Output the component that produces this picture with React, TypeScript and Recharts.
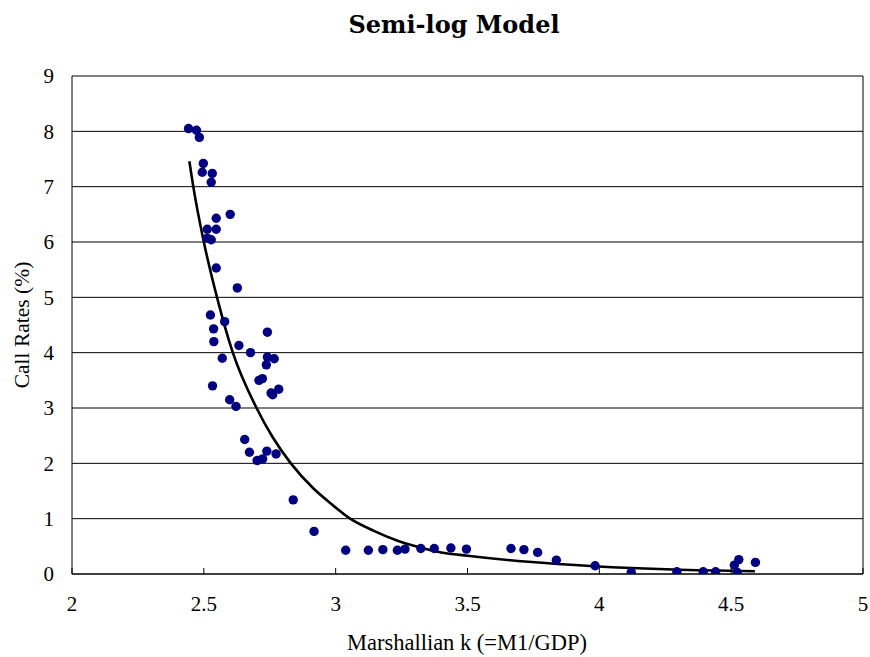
import { ComposedChart, Scatter, Line, XAxis, YAxis, CartesianGrid, ReferenceLine } from 'recharts';

// observed points: Marshallian k vs call rate (%)
const kValues = [
  2.442, 2.472, 2.483, 2.498, 2.494, 2.532, 2.528, 2.6, 2.547, 2.547, 2.513, 2.513, 2.528, 2.547, 2.627,
  2.525, 2.579, 2.537, 2.741, 2.538, 2.633, 2.677, 2.57, 2.741, 2.767, 2.737, 2.533, 2.709, 2.722, 2.755,
  2.784, 2.761, 2.598, 2.622, 2.655, 2.673, 2.739, 2.774, 2.702, 2.723, 2.839, 2.918, 3.038, 3.124, 3.179,
  3.234, 3.263, 3.323, 3.374, 3.437, 3.496, 3.665, 3.714, 3.766, 3.837, 3.984, 4.121, 4.294, 4.394, 4.441,
  4.512, 4.529, 4.523, 4.592,
];
const callRates = [
  8.05, 8.02, 7.89, 7.42, 7.26, 7.24, 7.08, 6.5, 6.43, 6.23, 6.23, 6.07, 6.04, 5.53, 5.17,
  4.68, 4.56, 4.43, 4.37, 4.2, 4.13, 4.0, 3.9, 3.92, 3.89, 3.78, 3.4, 3.5, 3.53, 3.27,
  3.34, 3.24, 3.15, 3.03, 2.43, 2.2, 2.22, 2.17, 2.05, 2.08, 1.34, 0.77, 0.43, 0.43, 0.44,
  0.43, 0.45, 0.46, 0.46, 0.47, 0.45, 0.46, 0.44, 0.39, 0.25, 0.15, 0.03, 0.04, 0.04, 0.04,
  0.16, 0.26, 0.03, 0.21,
];

// fitted curve
const fitK = [
  2.445, 2.46, 2.5, 2.55, 2.61, 2.7, 2.76, 2.83, 2.915, 2.98, 3.055, 3.145, 3.23, 3.32, 3.4, 3.5, 3.73, 3.98, 4.28, 4.59,
];
const fitRate = [
  7.46, 7.0, 6.0, 5.0, 4.0, 3.0, 2.48, 2.0, 1.55, 1.28, 1.0, 0.78, 0.61, 0.48, 0.39, 0.33, 0.22, 0.14, 0.08, 0.05,
];

const xTicks = [2, 2.5, 3, 3.5, 4, 4.5, 5];
const yTicks = [0, 1, 2, 3, 4, 5, 6, 7, 8, 9];

const points = kValues.map((x, i) => ({ x, y: callRates[i] }));
const fit = fitK.map((x, i) => ({ x, y: fitRate[i] }));

const serif = '"Liberation Serif", "Times New Roman", serif';

const XTick = ({ x, y, payload }: any) => (
  <g>
    <line x1={x} x2={x} y1={y - 6} y2={y} stroke="#000" />
    <text x={x} y={y + 37} textAnchor="middle" fontFamily={serif} fontSize={21} fill="#000">
      {payload.value}
    </text>
  </g>
);

const YTick = ({ x, y, payload }: any) => (
  <text x={x - 18} y={y} dy="0.35em" textAnchor="end" fontFamily={serif} fontSize={21} fill="#000">
    {payload.value}
  </text>
);

const Dot = (p: any) => <circle cx={p.cx} cy={p.cy} r={4.7} fill="#000080" />;

export default function App() {
  return (
    <div style={{ position: 'absolute', top: 0, left: 0, width: 870, height: 657, background: '#fff' }}>
      <ComposedChart width={870} height={657} margin={{ top: 76, right: 7, bottom: 0, left: 0 }}>
        <CartesianGrid vertical={false} stroke="#000" horizontalValues={yTicks} />
        <XAxis
          type="number"
          dataKey="x"
          domain={[2, 5]}
          ticks={xTicks}
          allowDataOverflow
          height={83}
          tickSize={0}
          tickMargin={0}
          tick={<XTick />}
          axisLine={{ stroke: '#000' }}
          tickLine={false}
        />
        <YAxis
          type="number"
          dataKey="y"
          domain={[0, 9]}
          ticks={yTicks}
          allowDataOverflow
          width={72}
          tickSize={0}
          tickMargin={0}
          tick={<YTick />}
          axisLine={{ stroke: '#000' }}
          tickLine={false}
        />
        <ReferenceLine x={5} stroke="#000" />
        <Scatter data={points} dataKey="y" shape={Dot} isAnimationActive={false} />
        <Line
          data={fit}
          dataKey="y"
          type="monotone"
          stroke="#000"
          strokeWidth={2.6}
          dot={false}
          activeDot={false}
          isAnimationActive={false}
        />
      </ComposedChart>
      <svg width={870} height={657} style={{ position: 'absolute', top: 0, left: 0, pointerEvents: 'none' }}>
        <text x={454} y={33} textAnchor="middle" fontFamily='"DejaVu Serif", serif' fontWeight="bold" fontSize={24} fill="#000">
          Semi-log Model
        </text>
        <text x={467} y={650} textAnchor="middle" fontFamily={serif} fontSize={22.5} fill="#000">
          Marshallian k (=M1/GDP)
        </text>
        <text x={29} y={325} textAnchor="middle" transform="rotate(-90, 29, 325)" fontFamily={serif} fontSize={21.5} fill="#000">
          Call Rates (%)
        </text>
      </svg>
    </div>
  );
}
